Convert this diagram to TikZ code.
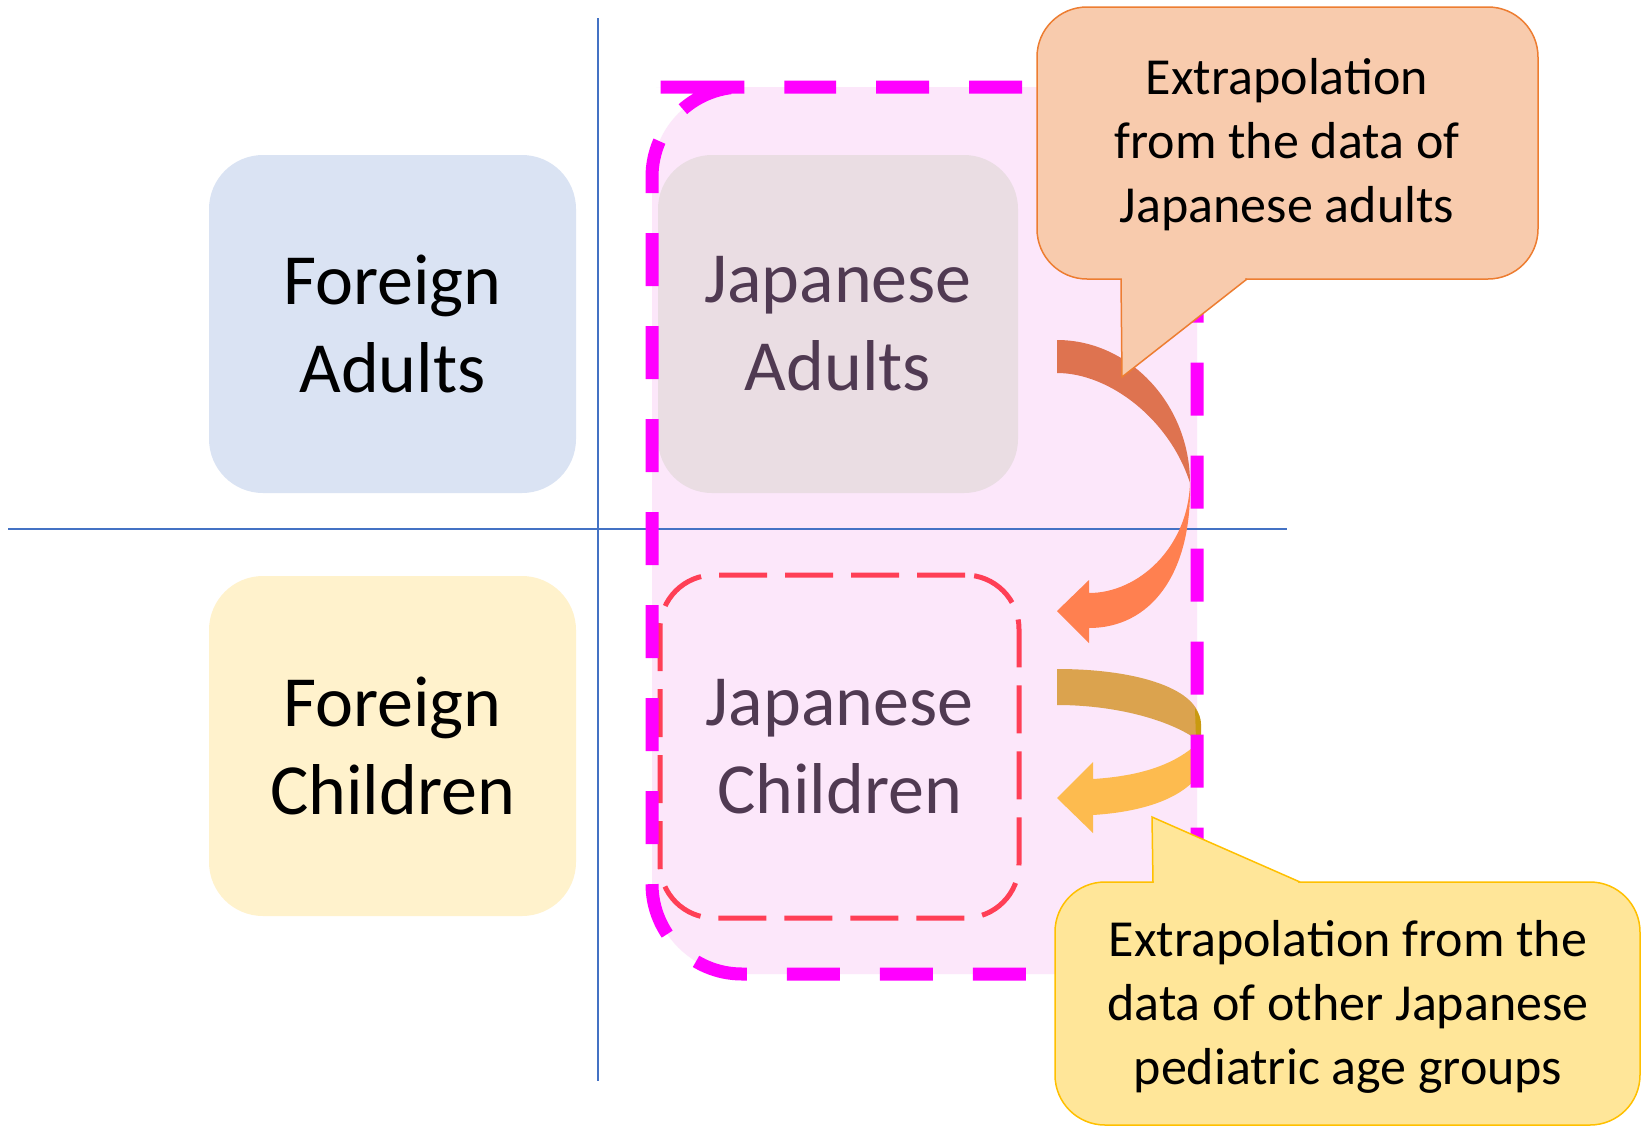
\documentclass[tikz,border=0pt]{standalone}
\usepackage{fontspec}
\setmainfont{Carlito}
\definecolor{pinkfill}{HTML}{FCE7FA}
\definecolor{axisblue}{HTML}{4472C4}
\definecolor{fablue}{HTML}{DAE3F3}
\definecolor{fcyellow}{HTML}{FFF2CC}
\definecolor{jagray}{HTML}{EADDE3}
\definecolor{jatext}{HTML}{503A52}
\definecolor{reddash}{HTML}{FF3F56}
\definecolor{magdash}{HTML}{FF00FF}
\definecolor{arrdark}{HTML}{DE7350}
\definecolor{arrlight}{HTML}{FF8050}
\definecolor{goldark}{HTML}{DBA34E}
\definecolor{goldedge}{HTML}{C99A10}
\definecolor{gollight}{HTML}{FDBB4F}
\definecolor{orfill}{HTML}{F8CBAD}
\definecolor{orline}{HTML}{ED7D31}
\definecolor{yefill}{HTML}{FFE699}
\definecolor{yeline}{HTML}{FFC000}
\begin{document}
\begin{tikzpicture}[x=0.5pt,y=-0.5pt,
  qbox/.style={rounded corners=27pt, inner sep=0pt, align=center, font=\fontsize{36}{44}\selectfont},
  ctext/.style={align=center, inner sep=0pt, font=\fontsize{26}{32}\selectfont},
  axisline/.style={draw=axisblue, line width=0.75pt},
  cborder/.style={line width=0.75pt}]
\useasboundingbox (0,0) rectangle (1646,1126);
\fill[white] (0,0) rectangle (1646,1126);
% pink region
\fill[pinkfill, rounded corners=45pt] (746,87) -- (1197,87) -- (1197,974) -- (652,974) -- (652,87) -- cycle;
% axis lines
\coordinate (vt) at (598,18); \coordinate (vb) at (598,1081);
\coordinate (hl) at (8,529); \coordinate (hr) at (1287,529);
\draw[axisline] (vt) -- (vb);
\draw[axisline] (hl) -- (hr);
% boxes
\node[qbox, fill=fablue, minimum width=183.5pt, minimum height=169pt] (fa) at (392.5,324) {Foreign\\Adults};
\node[qbox, fill=fcyellow, minimum width=183.5pt, minimum height=170pt] (fc) at (392.5,746) {Foreign\\Children};
\node[qbox, fill=jagray, text=jatext, minimum width=180pt, minimum height=169pt] (ja) at (838,324) {Japanese\\Adults};
\node[qbox, draw=reddash, line width=2.5pt, dash pattern=on 24pt off 9pt, text=jatext, minimum width=179.5pt, minimum height=171.5pt] (jc) at (839.5,746.5) {Japanese\\Children};
% orange curved arrow
\fill[arrdark] (1057,340) .. controls (1130,340) and (1190,405) .. (1190,483)
   .. controls (1170,420) and (1110,373) .. (1057,373) -- cycle;
\fill[arrlight] (1190,483) .. controls (1192,575) and (1150,628) .. (1089,628)
   -- (1089,643) -- (1057,611) -- (1089,580) -- (1089,593)
   .. controls (1138,593) and (1188,548) .. (1190,483) -- cycle;
% yellow curved arrow
\fill[goldark] (1057,669) .. controls (1140,669) and (1200,690) .. (1200,722) -- (1200,742)
   .. controls (1175,722) and (1120,705) .. (1057,705) -- cycle;
\fill[goldedge] (1195,708) .. controls (1199,714) and (1201,718) .. (1201,724) -- (1201,742) -- (1196,740) -- cycle;
\fill[gollight] (1199,742) -- (1199,775) .. controls (1180,800) and (1140,812) .. (1093,815)
   -- (1093,833) -- (1057,798) -- (1093,762) -- (1093,779)
   .. controls (1140,776) and (1175,765) .. (1199,742) -- cycle;
% magenta dashed outline
\draw[magdash, line width=6.5pt, dash pattern=on 26.5pt off 20pt, dash phase=26.5pt, rounded corners=45pt]
  (746,87) -- (1197,87) -- (1197,974) -- (652,974) -- (652,87) -- cycle;
% orange callout
\filldraw[fill=orfill, draw=orline, cborder, rounded corners=25pt] (1037,7) rectangle (1538,279);
\fill[orfill] (1121,279) -- (1122,377) -- (1247,279) -- cycle;
\fill[orfill] (1122.2,272) rectangle (1245,280.6);
\draw[orline, cborder, line join=miter] (1121,279) -- (1122,377) -- (1247,279);
\node[ctext] (ct1) at (1287,145) {Extrapolation\\from the data of\\Japanese adults};
% yellow callout
\filldraw[fill=yefill, draw=yeline, cborder, rounded corners=25pt] (1055,882) rectangle (1640,1125);
\fill[yefill] (1153,882) -- (1152,817) -- (1300,882) -- cycle;
\fill[yefill] (1153.8,880.8) rectangle (1298,889);
\draw[yeline, cborder, line join=miter] (1153,882) -- (1152,817) -- (1300,882);
\node[ctext] (ct2) at (1348,1007) {Extrapolation from the\\data of other Japanese\\pediatric age groups};
\end{tikzpicture}
\end{document}
